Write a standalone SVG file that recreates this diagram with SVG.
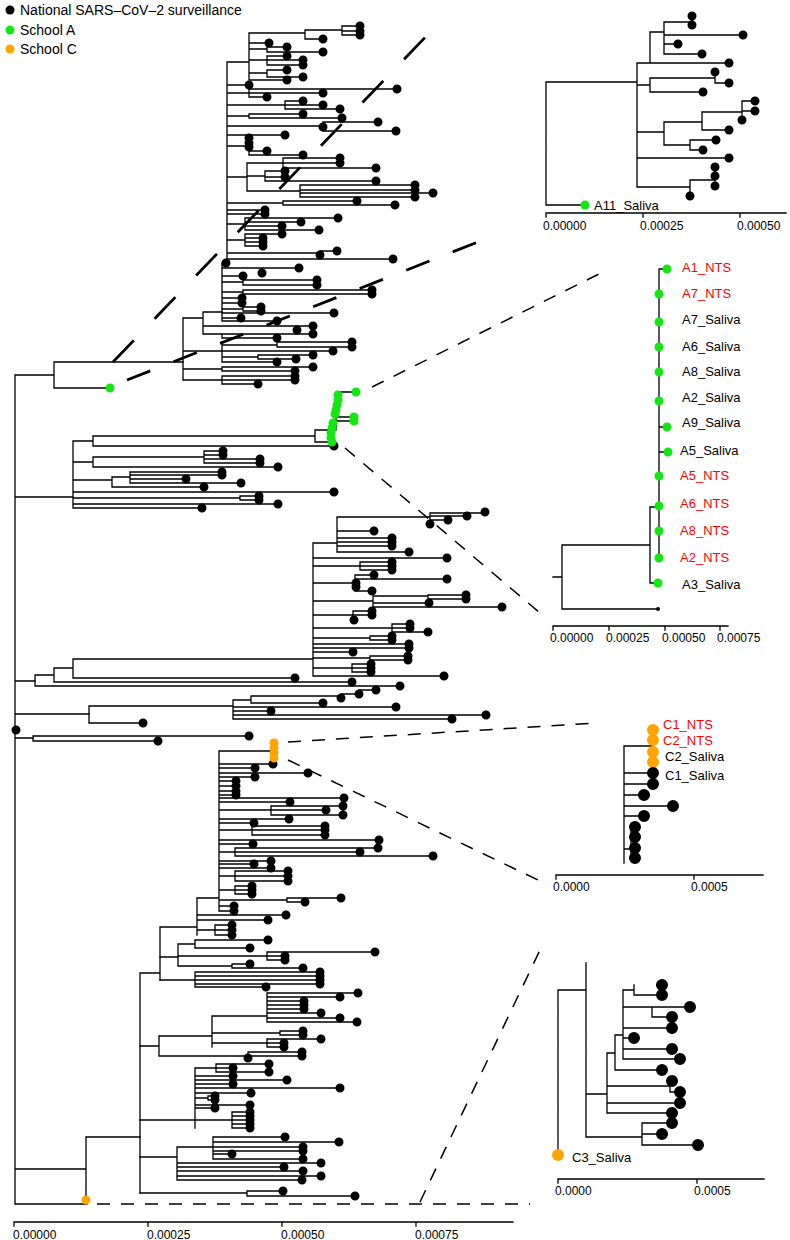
<svg xmlns="http://www.w3.org/2000/svg" width="790" height="1240" viewBox="0 0 790 1240">
<style>
.br{fill:none;stroke:#000;stroke-width:1.3;stroke-linecap:square}
.dk{fill:none;stroke:#000;stroke-width:9;stroke-linecap:round}
.dg{fill:none;stroke:#14E614;stroke-width:9;stroke-linecap:round}
.do{fill:none;stroke:#FFA500;stroke-width:9;stroke-linecap:round}
.DK{fill:none;stroke:#000;stroke-width:12;stroke-linecap:round}
.DO{fill:none;stroke:#FFA500;stroke-width:12;stroke-linecap:round}
.d1{fill:none;stroke:#000;stroke-width:2.8;stroke-dasharray:30 30}
.d2{fill:none;stroke:#000;stroke-width:2.8;stroke-dasharray:25 25}
.ds{fill:none;stroke:#000;stroke-width:1.5;stroke-dasharray:13 11}
text{font-family:"Liberation Sans",Arial,sans-serif;fill:#000}
.lg{font-size:14px}
.lb{font-size:13px}
.red{fill:#FF0000}
.tk{font-size:12px}
</style>
<rect width="790" height="1240" fill="#fff"/>

<g id="legend">
<circle cx="10" cy="10" r="4.5" fill="#000"/><text class="lg" x="20" y="14.5">National SARS–CoV–2 surveillance</text>
<circle cx="10" cy="30" r="4.5" fill="#14E614"/><text class="lg" x="20" y="34.5">School A</text>
<circle cx="10" cy="49" r="4.5" fill="#FFA500"/><text class="lg" x="20" y="53.5">School C</text>
</g>

<g id="main-tree">
<path class="br" d="M15 375V1204M15 375H54M54 362V388M54 362H183M54 388H110M15 497H73M15 681H35M15 714H89M15 738H33M15 1169H86M15 1204H87M86 1137V1200M86 1137H140"/>
<path class="br" d="M183 318V380M183 318H203M203 312V334M203 312H222M203 326H297M297 326V330M297 326H313M203 334H222M222 334V338M222 334H313M222 338H277M183 351H222M222 342V362M222 345H277M277 342V347M277 342H352M277 347H352M222 351H333M222 357H258M258 355V359M258 355H313M258 359H296M222 362H277M183 369H222M222 367V371M222 367H313M222 371H295M183 380H222M222 376V384M222 376H295M222 380H295M222 384H258"/>
<path class="br" d="M222 263V321M222 263H227M222 268H262M262 268V273M262 268H299M222 276H243M222 282H243M243 280V285M243 280H317M243 285H317M222 292H243M243 290V294M243 290H372M243 294H372M222 298H242M222 303H242M222 309H243M243 307V311M243 307H261M243 311H261M222 313H334M222 318H241M222 321H277"/>
<path class="br" d="M227 62V263M227 62H249M249 33V80M249 33H305M305 30V39M305 30H342M342 26V35M342 26H360M342 31H360M342 35H360M305 39H323M249 43H269M249 49H267M267 47V52M267 47H287M267 52H323M249 60H267M267 56V65M267 56H287M267 60H303M267 65H303M249 73H267M267 70V77M267 70H287M267 77H303M249 80H287M227 85H249M227 93H249M249 89V97M249 89H397M249 93H323M249 97H267M227 105H285M285 101V109M285 101H303M285 105H323M285 109H340M227 116H249M249 114V118M249 114H303M249 118H342M227 126H323M323 122V131M323 122H378M323 131H396M227 135H285M227 146H249M249 138V155M249 151H267M249 155H303M227 177H247M247 163V191M247 163H283M283 158V168M283 158H340M283 163H340M283 168H376M247 176H265M265 171V181M265 171H285M265 177H285M265 181H376M247 191H300M300 185V197M300 185H415M300 190H415M300 193H433M300 197H415M227 203H283M283 201V205M283 201H357M283 205H395M227 210H265M227 214H265M227 224H245M245 218V230M245 218H338M245 222H301M245 226H282M245 230H319M227 240H245M245 234V246M245 234H282M245 238H263M245 242H263M245 246H263M227 253H320M320 251V255M320 251H337M227 259H393"/>
<path class="br" d="M73 441V508M73 441H93M93 436V446M93 436H315M315 430V442M315 430H336M315 442H332M336 392V430M336 392H356M336 417H354M354 417V421M336 421H354M93 446H334M73 462H93M93 457V467M93 457H204M204 451V463M204 451H223M204 455H223M204 459H260M204 463H260M93 467H278M73 480H112M112 477V487M112 477H130M130 472V483M130 472H222M130 475H222M130 479H186M130 483H241M112 487H204M73 492H334M73 498H240M240 496V500M240 496H259M240 500H259M73 504H278M73 508H202"/>
<path class="br" d="M35 675V686M35 675H54M54 668V682M54 668H73M54 682H352M35 686H400M73 659V678M73 659H313M73 678H295M313 543V676M313 543H337M337 517V552M337 517H430M430 513V524M430 513H485M430 516H467M430 520H448M337 531H374M337 538H392M337 542H392M337 546H392M337 552H409M313 558H447M313 566H360M360 562V570M360 562H392M360 566H392M360 570H392M313 583H355M355 575V591M355 575H374M355 579H447M355 587H356M355 591H372M313 601H373M373 596V607M373 596H428M428 595V599M428 595H466M428 599H466M373 603H429M373 607H502M313 615H353M353 611V620M353 611H372M353 615H372M353 620H354M313 628H392M392 624V632M392 624H410M392 628H410M392 632H428M313 638H370M370 636V640M370 636H392M370 640H392M313 644H409M313 648H409M313 652H353M313 658H370M370 656V660M370 656H408M370 660H408M313 668H352M352 664V672M352 664H371M352 668H371M352 672H371M313 676H444"/>
<path class="br" d="M89 706V723M89 706H233M233 700V719M233 700H251M251 696V703M251 696H341M341 694V698M341 694H359M359 690V694M359 690H376M251 703H323M233 707H396M233 711H271M233 715H486M233 719H452M89 723H143M33 736V741M33 736H249M33 741H158"/>
<path class="br" d="M140 973V1193M140 973H160M160 927V980M160 927H197M197 898V935M197 898H219M219 751V911M219 751H273M273 743V758M219 764H273M219 768H255M219 773H308M219 777H255M219 781H236M219 786H236M219 791H236M219 795H236M219 798H344M219 802H290M219 810H271M271 806V815M271 806H343M271 810H326M271 815H343M219 819H289M219 823H254M219 830H252M252 826V835M252 826H325M252 830H325M252 835H325M219 840H379M219 844H253M219 852H235M235 848V856M235 848H378M235 852H360M235 856H433M219 861H271M219 864H254M219 868H271M219 876H235M235 871V881M235 871H288M235 876H288M235 881H288M219 890H235M235 886V894M235 886H252M235 890H252M235 894H252M219 900H287M287 898V902M287 898H341M287 902H305M219 906H234M219 911H234M197 915H286M197 920H268M197 930H215M215 925V935M215 925H232M215 930H232M215 935H232"/>
<path class="br" d="M160 957H178M178 944V966M178 944H195M195 940V948M195 940H268M195 948H250M178 956H267M267 952V960M267 952H375M267 956H285M267 960H285M178 966H232M232 964V968M232 964H250M232 968H303M160 980H195M195 972V987M195 972H320M195 976H320M195 980H320M195 984H320M195 987H266M140 1046H159M159 1036V1056M159 1036H212M212 1016V1047M212 1016H267M267 993V1022M267 993H358M267 997H340M267 1001H304M267 1005H304M267 1009H304M267 1013H321M267 1018H340M267 1022H357M212 1033H280M280 1031V1035M280 1031H303M280 1035H303M212 1043H267M267 1039V1047M267 1039H321M267 1043H284M267 1047H284M159 1056H248M248 1052V1058M248 1052H302M248 1056H302"/>
<path class="br" d="M140 1120H195M195 1068V1128M195 1068H216M216 1064V1072M216 1064H269M216 1068H233M216 1072H269M195 1076H233M195 1080H287M195 1084H233M195 1088H340M195 1093H251M195 1098H208M208 1096V1100M208 1096H215M208 1100H215M195 1105H250M195 1108H215M195 1120H232M232 1112V1128M232 1112H250M232 1116H250M232 1120H250M232 1124H250M232 1128H250M140 1157H177M177 1147V1180M177 1147H213M213 1137V1159M213 1137H285M213 1142H339M213 1147H303M213 1151H303M213 1154H232M213 1159H303M177 1163H321M177 1167H284M177 1171H303M177 1176H321M177 1180H302M140 1193H247M247 1191V1196M247 1191H283M247 1196H355"/>
</g>

<g id="main-tips">
<path class="dk" d="M313 326h0M297 330h0M313 334h0M277 338h0M352 342h0M352 347h0M333 351h0M313 355h0M296 359h0M277 362h0M313 367h0M295 371h0M295 376h0M295 380h0M258 384h0M226 263h0M299 268h0M262 273h0M243 276h0M317 280h0M317 285h0M372 290h0M372 294h0M242 298h0M242 303h0M261 307h0M261 311h0M334 313h0M241 318h0M277 321h0M360 26h0M360 31h0M360 35h0M323 39h0M269 43h0M287 47h0M323 52h0M287 56h0M303 60h0M303 65h0M287 70h0M303 77h0M287 80h0M249 85h0M397 89h0M323 93h0M267 97h0M303 101h0M323 105h0M340 109h0M303 114h0M342 118h0M378 122h0M323 127h0M396 131h0M285 135h0M249 138h0M249 143h0M249 147h0M267 151h0M303 155h0M340 158h0M340 163h0M376 168h0M285 171h0M285 177h0M376 181h0M415 185h0M415 190h0M433 193h0M415 197h0M357 201h0M395 205h0M265 210h0M265 214h0M338 218h0M301 222h0M282 226h0M319 230h0M282 234h0M263 238h0M263 242h0M263 246h0M337 251h0M320 255h0M393 259h0"/>
<path class="dk" d="M334 446h0M223 451h0M223 455h0M260 459h0M260 463h0M278 467h0M222 472h0M222 475h0M186 479h0M241 483h0M204 487h0M334 492h0M259 496h0M259 500h0M278 504h0M202 508h0M485 512h0M467 516h0M448 520h0M430 524h0M374 531h0M392 538h0M392 542h0M392 546h0M409 552h0M447 558h0M392 562h0M392 566h0M392 570h0M374 575h0M447 579h0M356 583h0M356 587h0M372 591h0M466 595h0M466 599h0M429 603h0M502 607h0M372 611h0M372 615h0M354 620h0M410 624h0M410 628h0M428 632h0M392 636h0M392 640h0M409 644h0M409 648h0M353 652h0M408 656h0M408 660h0M371 664h0M371 668h0M371 672h0M444 676h0M295 678h0M352 682h0M400 686h0M376 690h0M359 694h0M341 698h0M323 703h0M396 707h0M271 711h0M486 715h0M452 719h0M143 723h0M16 730h0M249 736h0M158 741h0"/>
<path class="dk" d="M273 764h0M255 768h0M308 773h0M255 777h0M236 781h0M236 786h0M236 791h0M236 795h0M344 798h0M290 802h0M343 806h0M326 810h0M343 815h0M289 819h0M254 823h0M325 826h0M325 830h0M325 835h0M379 840h0M253 844h0M378 848h0M360 852h0M433 856h0M271 861h0M254 864h0M271 868h0M288 871h0M288 876h0M288 881h0M252 886h0M252 890h0M252 894h0M341 898h0M305 902h0M234 906h0M234 911h0M286 915h0M268 920h0M232 925h0M232 930h0M232 935h0M268 940h0M250 948h0M375 952h0M285 956h0M285 960h0M250 964h0M303 968h0M320 972h0M320 976h0M320 980h0M320 984h0M266 987h0M358 993h0M340 997h0M304 1001h0M304 1005h0M304 1009h0M321 1013h0M340 1018h0M357 1022h0M303 1031h0M303 1035h0M321 1039h0M284 1043h0M284 1047h0M302 1052h0M302 1056h0M248 1058h0M269 1064h0M233 1068h0M269 1072h0M233 1076h0M287 1080h0M233 1084h0M340 1088h0M251 1093h0M215 1096h0M215 1100h0M250 1105h0M215 1108h0M250 1112h0M250 1116h0M250 1120h0M250 1124h0M250 1128h0M285 1137h0M339 1142h0M303 1147h0M303 1151h0M232 1154h0M303 1159h0M321 1163h0M284 1167h0M303 1171h0M321 1176h0M302 1180h0M283 1191h0M355 1196h0"/>
<path class="dg" d="M110 388h0M356 392h0M338 395h0M338 400h0M337 405h0M336 410h0M335 414h0M354 417h0M354 421h0M333 423h0M332 428h0M331 433h0M331 438h0M332 442h0"/>
<path class="do" d="M274 743h0M274 748h0M274 753h0M274 758h0M86 1200h0"/>
</g>

<g id="main-axis">
<path class="br" d="M14 1222H513M14 1222V1226M148 1222V1226M282 1222V1226M416 1222V1226"/>
<text class="tk" x="13" y="1239">0.00000</text><text class="tk" x="147" y="1239">0.00025</text><text class="tk" x="281" y="1239">0.00050</text><text class="tk" x="415" y="1239">0.00075</text>
</g>

<g id="inset-A11">
<path class="br" d="M546 82V205M546 82H637M546 205H585M637 63V187M637 63H729M650 32V63M650 32H664M664 22V54M664 22H692M692 16V25M664 35H743M664 44H678M664 54H702M637 85H650M650 78V92M650 78H715M715 72V83M715 83H729M650 92H703M637 132H664M664 122V145M664 122H702M702 112V130M702 112H742M742 101V120M742 101H755M742 111H755M702 130H729M664 145H690M690 140V150M690 140H716M690 150H703M637 158H729M637 187H690M690 180V196M690 180H715M715 167V186"/>
<path class="dk" d="M692 16h0M692 25h0M743 35h0M678 44h0M702 54h0M729 63h0M715 72h0M729 83h0M703 92h0M755 101h0M755 111h0M742 120h0M729 130h0M716 140h0M703 150h0M729 158h0M715 167h0M715 176h0M715 186h0M690 196h0"/>
<path class="dg" d="M585 205h0"/>
<text class="lb" x="594" y="210">A11_Saliva</text>
<path class="br" d="M546 213H786M546 213V217M643 213V217M740 213V217"/>
<text class="tk" x="543" y="230">0.00000</text><text class="tk" x="640" y="230">0.00025</text><text class="tk" x="737" y="230">0.00050</text>
</g>

<g id="inset-A">
<path class="br" d="M553 577H562M562 545V609M562 545H650M562 609H658M650 507V583M650 507H659M650 583H658M659 269V558M659 269H667M659 427H667M659 452H668"/>
<path class="dg" d="M667 269h0M659 294h0M659 322h0M659 347h0M659 372h0M659 401h0M667 427h0M668 452h0M659 476h0M659 506h0M659 531h0M659 558h0M658 583h0"/>
<circle cx="658" cy="609" r="2" fill="#000"/>
<text class="lb red" x="682" y="272">A1_NTS</text>
<text class="lb red" x="682" y="298">A7_NTS</text>
<text class="lb" x="682" y="324">A7_Saliva</text>
<text class="lb" x="682" y="351">A6_Saliva</text>
<text class="lb" x="682" y="376">A8_Saliva</text>
<text class="lb" x="682" y="402">A2_Saliva</text>
<text class="lb" x="682" y="427">A9_Saliva</text>
<text class="lb" x="680" y="455">A5_Saliva</text>
<text class="lb red" x="680" y="480">A5_NTS</text>
<text class="lb red" x="680" y="508">A6_NTS</text>
<text class="lb red" x="680" y="535">A8_NTS</text>
<text class="lb red" x="680" y="562">A2_NTS</text>
<text class="lb" x="682" y="589">A3_Saliva</text>
<path class="br" d="M553 626H728M553 626V630M609 626V630M665 626V630M720 626V630"/>
<text class="tk" x="550" y="642">0.00000</text><text class="tk" x="606" y="642">0.00025</text><text class="tk" x="662" y="642">0.00050</text><text class="tk" x="717" y="642">0.00075</text>
</g>

<g id="inset-C">
<path class="br" d="M624 746V863M624 746H653M653 730V762M624 773H653M624 784H653M624 795H644M624 806H673M624 816H644M624 849H631M631 827V858"/>
<path class="DO" d="M653 730h0M653 740h0M653 752h0M653 762h0"/>
<path class="DK" d="M653 773h0M653 784h0M644 795h0M673 806h0M644 816h0M635 827h0M635 837h0M635 848h0M635 858h0"/>
<text class="lb red" x="663" y="729">C1_NTS</text>
<text class="lb red" x="663" y="745">C2_NTS</text>
<text class="lb" x="665" y="761">C2_Saliva</text>
<text class="lb" x="665" y="780">C1_Saliva</text>
<path class="br" d="M556 875H763M556 875V879M694 875V879"/>
<text class="tk" x="553" y="891">0.0000</text><text class="tk" x="691" y="891">0.0005</text>
</g>

<g id="inset-C3">
<path class="br" d="M558 990V1155M558 990H586M586 963V1137M586 1094H607M607 1053V1113M607 1053H615M615 1035V1070M615 1035H623M623 990V1059M623 990H634M634 985V995M634 995H662M623 1007H652M652 1007V1017M652 1007H690M652 1017H672M623 1028H672M623 1038H634M623 1049H672M623 1059H680M615 1070H662M607 1086H670M670 1081V1092M670 1092H680M607 1103H680M607 1113H672M586 1137H642M642 1123V1145M642 1123H672M642 1134H662M642 1145H698"/>
<path class="DK" d="M662 985h0M662 995h0M690 1007h0M672 1017h0M672 1028h0M634 1038h0M672 1049h0M680 1059h0M662 1070h0M672 1081h0M680 1092h0M680 1103h0M672 1113h0M672 1123h0M662 1134h0M698 1145h0"/>
<path class="DO" d="M558 1155h0"/>
<text class="lb" x="572" y="1162">C3_Saliva</text>
<path class="br" d="M558 1179H764M558 1179V1183M697 1179V1183"/>
<text class="tk" x="555" y="1195">0.0000</text><text class="tk" x="694" y="1195">0.0005</text>
</g>

<g id="connectors">
<path class="d1" d="M113 362L437 25"/>
<path class="d2" d="M127 380L483 240"/>
<path class="ds" d="M372 387L605 271"/>
<path class="ds" d="M345 448L540 613"/>
<path class="ds" d="M288 742L597 723"/>
<path class="ds" d="M288 760L540 881"/>
<path class="ds" d="M97 1204H530"/>
<path class="ds" d="M420 1202L540 950"/>
</g>
</svg>
